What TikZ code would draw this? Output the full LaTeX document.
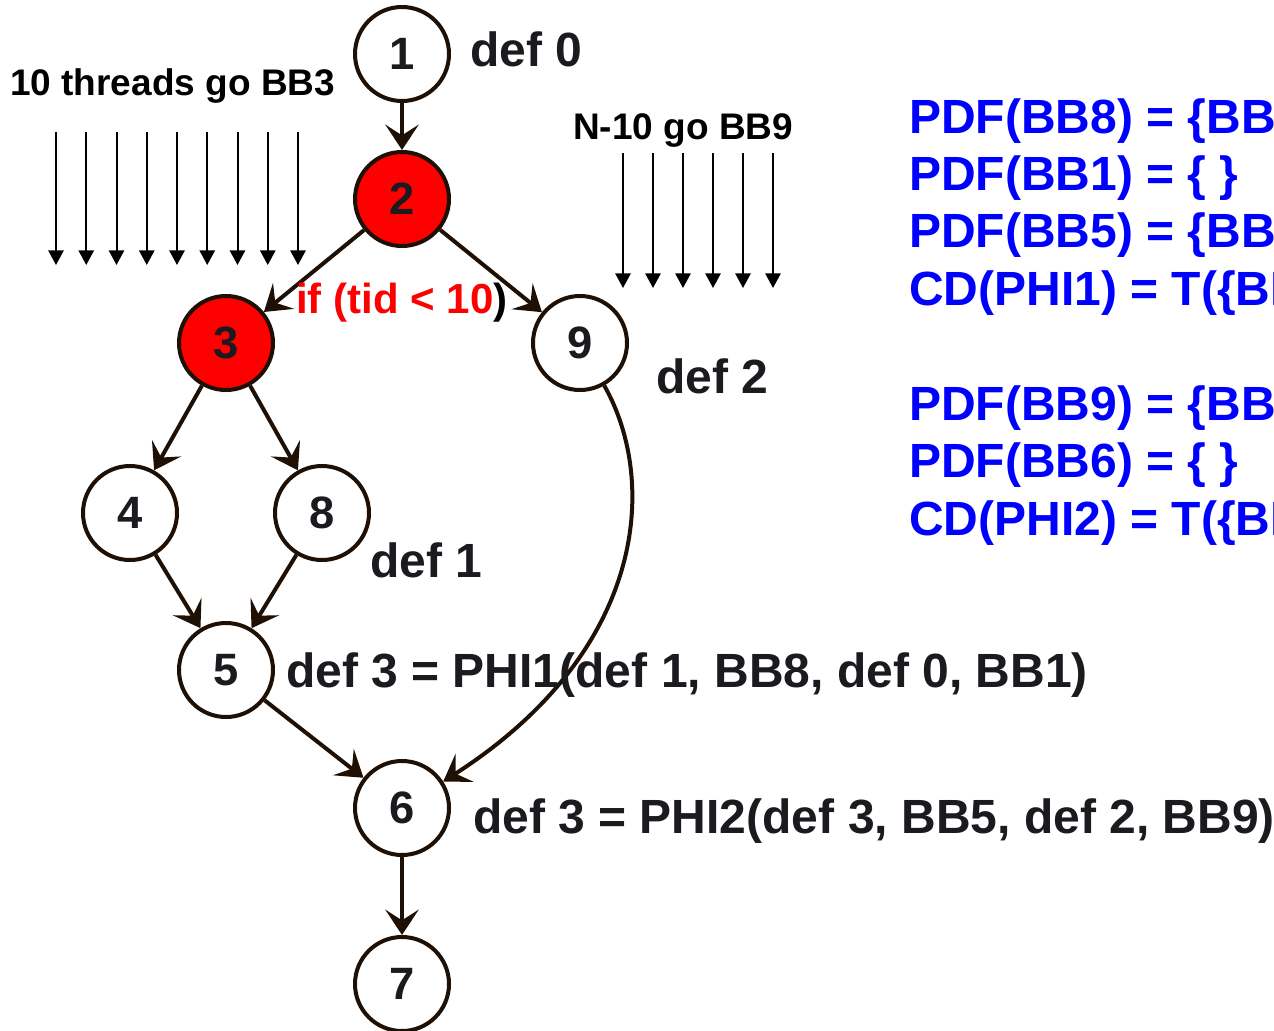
\documentclass[tikz,border=0pt]{standalone}
\usepackage{fontspec}
\setmainfont{Liberation Sans}
\usetikzlibrary{arrows.meta}
\definecolor{ink}{RGB}{30,16,5}
\definecolor{txt}{RGB}{26,26,31}
\definecolor{hot}{RGB}{255,0,0}
\definecolor{note}{RGB}{0,0,255}
\tikzset{
  bb/.style={circle, draw=ink, line width=3pt, minimum size=70.5pt, inner sep=0pt,
             fill=white, text=txt, font=\bfseries\fontsize{34}{34}\selectfont},
  hotbb/.style={bb, fill=hot},
  edge/.style={draw=ink, line width=3pt,
               -{Stealth[length=19pt, width=25pt, inset=8pt]}},
  thread/.style={draw=black, line width=1.5pt,
               -{Triangle[length=11pt, width=11.5pt]}},
  lbl/.style={anchor=base west, inner sep=0pt, text=txt,
              font=\bfseries\fontsize{36}{36}\selectfont},
  small/.style={anchor=base west, inner sep=0pt, text=black,
              font=\bfseries\fontsize{27.75}{28}\selectfont},
  blue/.style={anchor=base west, inner sep=0pt, text=note,
              font=\bfseries\fontsize{36}{36}\selectfont},
}
\begin{document}
\begin{tikzpicture}[x=0.75pt, y=-0.75pt]
\useasboundingbox (0,0) rectangle (1274,1031);
\clip (0,0) rectangle (1274,1031);

% thread bundles
\foreach \i in {0,...,8} {
  \coordinate (ta\i) at ({56+30.25*\i},132);
  \coordinate (tb\i) at ({56+30.25*\i},265);
  \draw[thread] (ta\i) -- (tb\i);
}
\foreach \i in {0,...,5} {
  \coordinate (tc\i) at ({623+30*\i},153);
  \coordinate (td\i) at ({623+30*\i},288);
  \draw[thread] (tc\i) -- (td\i);
}
\node[small] (thrA) at (10,95) {10 threads go BB3};
\node[small] (thrB) at (573,139) {N-10 go BB9};

% basic blocks
\node[bb]    (n1) at (402,54)  {1};
\node[hotbb] (n2) at (402,199) {2};
\node[hotbb] (n3) at (226,343) {3};
\node[bb]    (n9) at (580,343) {9};
\node[bb]    (n4) at (130,513) {4};
\node[bb]    (n8) at (322,513) {8};
\node[bb]    (n5) at (226,670) {5};
\node[bb]    (n6) at (402,808) {6};
\node[bb]    (n7) at (402,984) {7};

% control flow
\draw[edge] (n1) -- (n2);
\draw[edge] (n2) -- (n3);
\draw[edge] (n2) -- (n9);
\draw[edge] (n3) -- (n4);
\draw[edge] (n3) -- (n8);
\draw[edge] (n4) -- (n5);
\draw[edge] (n8) -- (n5);
\draw[edge] (n5) -- (n6);
\draw[edge] (n9) .. controls (658,480) and (648,650) .. (n6);
\draw[edge] (n6) -- (n7);

% branch condition
\node[anchor=base west, inner sep=0pt, font=\bfseries\fontsize{31.5}{32}\selectfont]
  (cond) at (296,313) {\textcolor{hot}{if (tid < 10}\textcolor{black}{)}};

% definitions
\node[lbl] (d0) at (470,67)  {def 0};
\node[lbl] (d2) at (656,393) {def 2};
\node[lbl] (d1) at (370,577) {def 1};
\node[lbl] (p1) at (286,687) {def 3 = PHI1(def 1, BB8, def 0, BB1)};
\node[lbl] (p2) at (473,833) {def 3 = PHI2(def 3, BB5, def 2, BB9)};

% dependence sets
\node[blue] (s1) at (909,133) {PDF(BB8) = \{BB};
\node[blue] (s2) at (909,190) {PDF(BB1) = \{ \}};
\node[blue] (s3) at (909,247) {PDF(BB5) = \{BB};
\node[blue] (s4) at (909,305) {CD(PHI1) = T(\{BB};
\node[blue] (s5) at (909,420) {PDF(BB9) = \{BB};
\node[blue] (s6) at (909,477) {PDF(BB6) = \{ \}};
\node[blue] (s7) at (909,535) {CD(PHI2) = T(\{BB};
\end{tikzpicture}
\end{document}
